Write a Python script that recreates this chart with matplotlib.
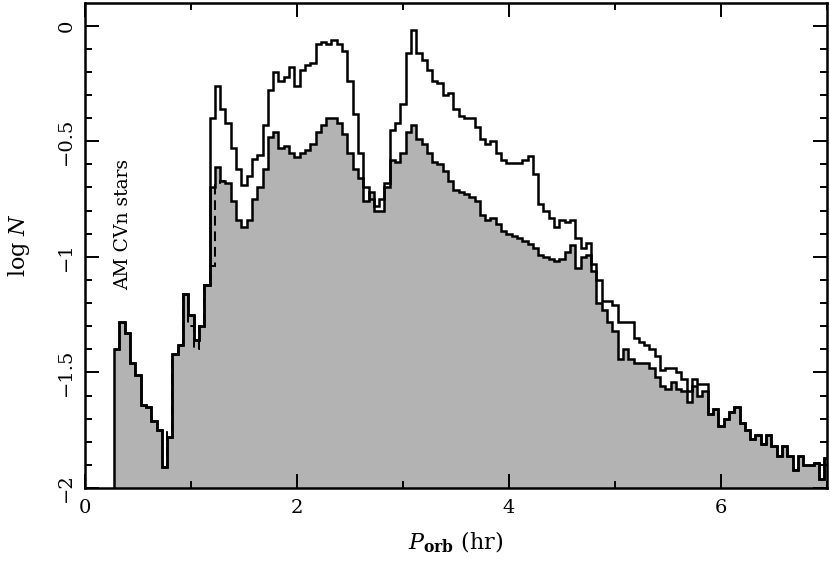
import numpy as np
import matplotlib
matplotlib.use("Agg")
import matplotlib.pyplot as plt
from matplotlib.ticker import MultipleLocator

# ---- data ----
bin_start = 0.275
bin_width = 0.05
lower = [-1.40, -1.28, -1.33, -1.46, -1.51, -1.64, -1.65, -1.71, -1.75, -1.91,
         -1.78, -1.42, -1.38, -1.16, -1.25, -1.36, -1.30, -1.12, -0.70, -0.61,
         -0.67, -0.68, -0.76, -0.84, -0.87, -0.84, -0.75, -0.70, -0.62, -0.48,
         -0.46, -0.53, -0.52, -0.55, -0.57, -0.55, -0.54, -0.51, -0.46, -0.43,
         -0.40, -0.40, -0.42, -0.47, -0.55, -0.62, -0.66, -0.76, -0.72, -0.80,
         -0.80, -0.70, -0.58, -0.59, -0.55, -0.46, -0.43, -0.49, -0.51, -0.55,
         -0.59, -0.60, -0.63, -0.67, -0.71, -0.72, -0.73, -0.74, -0.76, -0.82,
         -0.84, -0.83, -0.86, -0.89, -0.90, -0.91, -0.92, -0.93, -0.945, -0.96,
         -0.99, -1.00, -1.01, -1.02, -1.01, -0.98, -0.95, -1.05, -1.00, -0.99,
         -1.06, -1.20, -1.23, -1.28, -1.32, -1.44, -1.40, -1.44, -1.46, -1.46,
         -1.46, -1.48, -1.52, -1.56, -1.57, -1.54, -1.57, -1.58, -1.63, -1.56,
         -1.60, -1.58, -1.68, -1.66, -1.73, -1.70, -1.67, -1.65, -1.72, -1.75,
         -1.79, -1.77, -1.81, -1.77, -1.82, -1.86, -1.82, -1.86, -1.92, -1.86,
         -1.90, -1.90, -1.89, -1.96, -1.87]

# upper curve where it departs from the lower one (bins 1.175 .. 5.875 hr)
upper_mid = [-0.40, -0.26, -0.36, -0.42, -0.53, -0.62, -0.69, -0.65, -0.575, -0.56,
             -0.43, -0.28, -0.20, -0.24, -0.22, -0.18, -0.26, -0.19, -0.17, -0.16,
             -0.08, -0.07, -0.08, -0.06, -0.08, -0.11, -0.24, -0.38, -0.55, -0.70,
             -0.75, -0.78, -0.75, -0.68, -0.45, -0.42, -0.34, -0.12, -0.02, -0.12,
             -0.15, -0.19, -0.24, -0.25, -0.30, -0.29, -0.36, -0.39, -0.40, -0.40,
             -0.44, -0.49, -0.51, -0.50, -0.55, -0.58, -0.595, -0.595, -0.595, -0.58,
             -0.565, -0.64, -0.77, -0.80, -0.83, -0.87, -0.84, -0.85, -0.84, -0.92,
             -0.96, -0.94, -1.03, -1.10, -1.19, -1.19, -1.21, -1.28, -1.28, -1.28,
             -1.35, -1.37, -1.38, -1.40, -1.43, -1.49, -1.48, -1.48, -1.50, -1.53,
             -1.58, -1.53, -1.55, -1.55]
upper_first_bin = 18

# dashed curve (bins 0.725 .. 1.325 hr)
dashed_start = 0.725
dashed = [-1.91, -1.75, -1.42, -1.38, -1.16, -1.30, -1.40, -1.30, -1.12, -1.04,
          -0.69, -0.67]

annotation = "AM CVn stars"

# ---- figure ----
plt.rcParams['font.family'] = ['DejaVu Serif']
plt.rcParams['mathtext.fontset'] = 'dejavuserif'

fig = plt.figure(figsize=(8.30, 5.63), dpi=100)
ax = fig.add_axes([85/830, 1-488/563, 742/830, 485/563])

lower = np.array(lower)
edges = bin_start + bin_width * np.arange(len(lower) + 1)
upper = lower.copy()
upper[upper_first_bin:upper_first_bin + len(upper_mid)] = upper_mid
dedges = dashed_start + bin_width * np.arange(len(dashed) + 1)

ax.stairs(lower, edges, baseline=-2.5, fill=True, color='#b3b3b3', lw=0, zorder=1)
ax.stairs(upper, edges, baseline=None, color='black', lw=1.8, zorder=3)
ax.stairs(lower, edges, baseline=-2.5, color='black', lw=1.8, zorder=3)
ax.stairs(dashed, dedges, baseline=None, color='black', lw=1.4, ls=(0, (5, 3)), zorder=2)

ax.set_xlim(0, 7)
ax.set_ylim(-2, 0.098)

ax.xaxis.set_minor_locator(MultipleLocator(1))
ax.yaxis.set_minor_locator(MultipleLocator(0.1))
ax.set_xticks([0, 2, 4, 6])
ax.set_xticklabels(['0', '2', '4', '6'])
ax.set_yticks([0, -0.5, -1, -1.5, -2])
ax.set_yticklabels(['0', '\u22120.5', '\u22121', '\u22121.5', '\u22122'])

ax.tick_params(which='both', direction='in', top=True, right=True, width=1.4,
               labelsize=14, colors='black')
ax.tick_params(which='major', length=10)
ax.tick_params(which='minor', length=5)
ax.tick_params(axis='x', pad=8)
ax.tick_params(axis='y', pad=7)
for lab in ax.get_yticklabels():
    lab.set_rotation(90)
    lab.set_rotation_mode('anchor')
    lab.set_ha('center')
    lab.set_va('bottom')

for sp in ax.spines.values():
    sp.set_linewidth(1.8)
    sp.set_zorder(5)

ax.set_xlabel(r'$P_{\mathbf{orb}}$ (hr)', fontsize=16, labelpad=9)
ax.set_ylabel(r'log $N$', fontsize=16, labelpad=18)

ax.text(0.36, -0.86, annotation, rotation=90, ha='center', va='center',
        fontsize=13.5, zorder=4)

fig.savefig('out.png', dpi=100)
